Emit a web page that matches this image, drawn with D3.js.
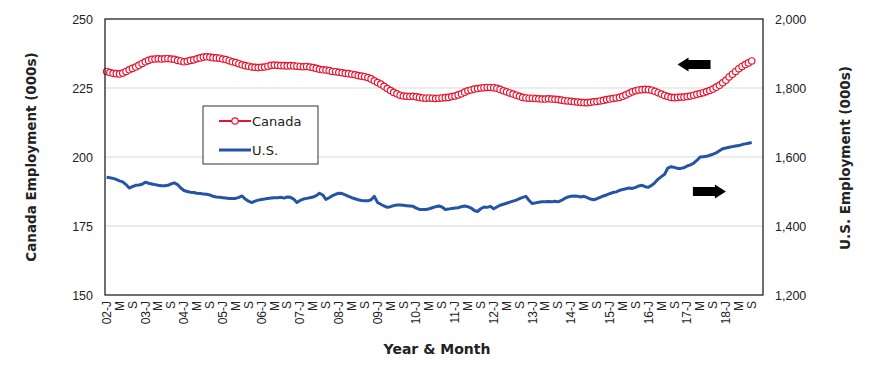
<!DOCTYPE html>
<html>
<head>
<meta charset="utf-8">
<script src="https://cdn.jsdelivr.net/npm/d3@7"></script>
<style>
  body { margin: 0; background: #fff; }
  svg { font-family: "Century Gothic", "DejaVu Sans", sans-serif; }
</style>
</head>
<body>
<svg id="chart" width="870" height="372"></svg>
<script>
// Categories: Jan 2002 .. Dec 2018 (data runs to Sep 2018)
const years = d3.range(2002, 2019);
const monthLetters = ['J', 'F', 'M', 'A', 'M', 'J', 'J', 'A', 'S', 'O', 'N', 'D'];
const labelMonths = [0, 4, 8];   // J, M, S

// Canada employment (000s), left axis
const canada = [
  231.0, 230.6, 230.3, 230.2, 230.1, 230.4, 231.0, 231.6, 232.1, 232.6, 233.2, 233.9,
  234.5, 235.0, 235.4, 235.5, 235.6, 235.5, 235.6, 235.7, 235.5, 235.4, 235.0, 234.8,
  234.5, 234.7, 235.0, 235.2, 235.6, 235.9, 236.2, 236.3, 236.2, 236.0, 235.9, 235.8,
  235.5, 235.3, 234.9, 234.5, 234.2, 233.8, 233.4, 233.1, 232.9, 232.6, 232.5, 232.4,
  232.5, 232.6, 232.9, 233.2, 233.3, 233.2, 233.1, 233.1, 233.0, 233.1, 233.0, 232.9,
  232.8, 232.7, 232.8, 232.6, 232.4, 232.1, 231.8, 231.6, 231.5, 231.3, 231.0, 230.9,
  230.7, 230.5, 230.3, 230.2, 230.0, 229.8, 229.5, 229.3, 229.1, 228.8, 228.3, 227.6,
  227.0, 226.4, 225.6, 224.8, 224.1, 223.4, 222.9, 222.4, 222.1, 222.0, 221.9, 222.0,
  221.8, 221.6, 221.4, 221.3, 221.4, 221.3, 221.2, 221.3, 221.4, 221.5, 221.6, 221.9,
  222.1, 222.5, 222.9, 223.5, 224.0, 224.3, 224.6, 224.8, 225.0, 225.1, 225.2, 225.2,
  225.1, 224.9, 224.5, 224.0, 223.6, 223.2, 222.8, 222.4, 222.0, 221.6, 221.4, 221.3,
  221.3, 221.2, 221.1, 221.0, 221.0, 221.1, 221.0, 220.9, 220.8, 220.6, 220.4, 220.3,
  220.2, 220.0, 219.9, 219.8, 219.7, 219.7, 219.8, 220.0, 220.1, 220.3, 220.5, 220.8,
  221.0, 221.2, 221.4, 221.6, 222.0, 222.5, 223.1, 223.6, 224.0, 224.3, 224.4, 224.5,
  224.4, 224.2, 223.8, 223.3, 222.8, 222.3, 221.9, 221.6, 221.5, 221.6, 221.7, 221.7,
  221.9, 222.1, 222.4, 222.7, 223.0, 223.3, 223.7, 224.1, 224.6, 225.3, 226.0, 226.9,
  227.8, 229.0, 230.0, 231.0, 232.0, 232.8, 233.5, 234.1, 234.8
];

// U.S. employment (000s), right axis
const us = [
  1541, 1540, 1538, 1535, 1531, 1528, 1520, 1510, 1514, 1518, 1519, 1521,
  1527, 1524, 1522, 1520, 1518, 1517, 1517, 1518, 1522, 1525, 1520, 1510,
  1503, 1500, 1498, 1497, 1495, 1494, 1493, 1492, 1490, 1486, 1484, 1483,
  1482, 1481, 1480, 1480, 1480, 1483, 1487, 1478, 1472, 1468, 1472, 1475,
  1477, 1478, 1480, 1481, 1482, 1482, 1483, 1481, 1484, 1483, 1478, 1468,
  1474, 1478, 1480, 1482, 1484, 1488, 1495, 1490, 1477, 1482, 1488, 1492,
  1495, 1494, 1490, 1486, 1482, 1479, 1476, 1474, 1473, 1473, 1476, 1486,
  1468, 1463, 1458, 1454, 1456, 1459, 1461, 1461, 1460, 1459, 1458, 1457,
  1452, 1448, 1448, 1448, 1450, 1453, 1456, 1458, 1455, 1448, 1449, 1451,
  1452, 1453, 1456, 1458, 1456, 1452, 1445, 1442, 1450, 1455, 1454, 1457,
  1450, 1455, 1460, 1463, 1466, 1469, 1472, 1475, 1479, 1483, 1486, 1474,
  1465, 1467, 1469, 1470, 1470, 1471, 1470, 1472, 1470, 1474, 1480, 1484,
  1486, 1487, 1486, 1484, 1486, 1482, 1478, 1476, 1479, 1483, 1487, 1490,
  1494, 1497, 1499, 1503, 1506, 1508, 1510, 1509, 1512, 1516, 1518, 1514,
  1512, 1518, 1526, 1536, 1543, 1550, 1568, 1572, 1570, 1567, 1567, 1569,
  1574, 1577, 1582, 1590, 1600, 1601, 1602, 1605, 1608, 1612, 1618, 1624,
  1626, 1628, 1630, 1632, 1633, 1636, 1638, 1640, 1642
];

const leftTicks = [150, 175, 200, 225, 250];
const rightTicks = [1200, 1400, 1600, 1800, 2000];

const RED = '#e8142e', BLUE = '#2455a4';

const svg = d3.select('#chart');
const plot = { left: 105, right: 763, top: 19, bottom: 295 };

const categories = years.flatMap((y) => monthLetters.map((m, mi) => ({ year: y, month: mi })));

const x = d3.scaleBand().domain(d3.range(categories.length)).range([plot.left, plot.right]);
const cx = (i) => x(i) + x.bandwidth() / 2;
const yLeft = d3.scaleLinear().domain([150, 250]).range([plot.bottom, plot.top]);
const yRight = d3.scaleLinear().domain([1200, 2000]).range([plot.bottom, plot.top]);

// Gridlines
svg.append('g').selectAll('line').data(leftTicks.slice(1, -1)).enter().append('line')
    .attr('x1', plot.left).attr('x2', plot.right)
    .attr('y1', (d) => yLeft(d)).attr('y2', (d) => yLeft(d))
    .attr('stroke', '#d9d9d9').attr('stroke-width', 1);

// Left axis labels
const axL = svg.append('g').attr('transform', `translate(${plot.left},0)`)
    .call(d3.axisLeft(yLeft).tickValues(leftTicks).tickSize(0).tickPadding(12));
axL.select('.domain').remove();
axL.selectAll('text').attr('font-size', 12.5).attr('fill', '#222').attr('font-family', null);

// Right axis labels
const axR = svg.append('g').attr('transform', `translate(${plot.right},0)`)
    .call(d3.axisRight(yRight).tickValues(rightTicks).tickSize(0).tickPadding(12).tickFormat(d3.format(',')));
axR.select('.domain').remove();
axR.selectAll('text').attr('font-size', 12.5).attr('fill', '#222').attr('font-family', null);

// Bottom axis labels
const tickIdx = d3.range(categories.length).filter((i) => labelMonths.includes(categories[i].month) && i < canada.length);
const axB = svg.append('g').attr('transform', `translate(0,${plot.bottom})`)
    .call(d3.axisBottom(x).tickValues(tickIdx).tickSize(0).tickFormat((i) => {
        const c = categories[i];
        return c.month === 0 ? String(c.year).slice(2) + '-' + monthLetters[0] : monthLetters[c.month];
    }));
axB.select('.domain').remove();
axB.selectAll('text')
    .attr('font-size', 12).attr('fill', '#222').attr('font-family', null)
    .attr('text-anchor', 'end').attr('dy', '0.35em').attr('y', 0)
    .attr('transform', 'translate(0,6) rotate(-90)');

// US line
const lineUS = d3.line().x((d, i) => cx(i)).y((d) => yRight(d));
svg.append('path').datum(us).attr('d', lineUS)
    .attr('fill', 'none').attr('stroke', BLUE).attr('stroke-width', 3).attr('stroke-linejoin', 'round');

// Canada line + markers
const lineCA = d3.line().x((d, i) => cx(i)).y((d) => yLeft(d));
svg.append('path').datum(canada).attr('d', lineCA)
    .attr('fill', 'none').attr('stroke', RED).attr('stroke-width', 2);
svg.append('g').selectAll('circle').data(canada).enter().append('circle')
    .attr('cx', (d, i) => cx(i)).attr('cy', (d) => yLeft(d)).attr('r', 3.2)
    .attr('fill', '#fff').attr('stroke', RED).attr('stroke-width', 1.2);

// Plot border
svg.append('rect')
    .attr('x', plot.left).attr('y', plot.top)
    .attr('width', plot.right - plot.left).attr('height', plot.bottom - plot.top)
    .attr('fill', 'none').attr('stroke', '#222').attr('stroke-width', 1.3);

// Legend
const lg = svg.append('g').attr('transform', 'translate(203,106)');
lg.append('rect').attr('width', 115).attr('height', 58)
    .attr('fill', '#fff').attr('stroke', '#333').attr('stroke-width', 1);
lg.append('line').attr('x1', 16).attr('x2', 48).attr('y1', 15).attr('y2', 15).attr('stroke', RED).attr('stroke-width', 2);
lg.append('circle').attr('cx', 32).attr('cy', 15).attr('r', 3.2).attr('fill', '#fff').attr('stroke', RED).attr('stroke-width', 1.2);
lg.append('text').attr('x', 49).attr('y', 15).attr('dy', '0.35em').attr('font-size', 13).attr('fill', '#222').text('Canada');
lg.append('line').attr('x1', 16).attr('x2', 48).attr('y1', 44).attr('y2', 44).attr('stroke', BLUE).attr('stroke-width', 3);
lg.append('text').attr('x', 49).attr('y', 44).attr('dy', '0.35em').attr('font-size', 13).attr('fill', '#222').text('U.S.');

// Arrows (annotation): left one points at Canada axis, right one at U.S. axis
function arrow(xTip, yMid, dir) {
    const len = 33, head = 11, h = 7, sh = 4.5;
    const p = [[0, 0], [head, -h], [head, -sh], [len, -sh], [len, sh], [head, sh], [head, h]];
    return 'M' + p.map(([a, b]) => [xTip + dir * a, yMid + b].join(',')).join('L') + 'Z';
}
svg.append('path').attr('d', arrow(cx(177), yLeft(233.5), 1)).attr('fill', '#000');
svg.append('path').attr('d', arrow(cx(192), yRight(1500), -1)).attr('fill', '#000');

// Axis titles
svg.append('text').attr('transform', 'translate(31,157) rotate(-90)')
    .attr('text-anchor', 'middle').attr('dy', '0.35em')
    .attr('font-size', 13.5).attr('font-weight', 'bold').attr('fill', '#222')
    .text('Canada Employment (000s)');
svg.append('text').attr('transform', 'translate(845,158) rotate(-90)')
    .attr('text-anchor', 'middle').attr('dy', '0.35em')
    .attr('font-size', 13.5).attr('font-weight', 'bold').attr('fill', '#222')
    .text('U.S. Employment (000s)');
svg.append('text').attr('x', 437).attr('y', 354)
    .attr('text-anchor', 'middle')
    .attr('font-size', 14).attr('font-weight', 'bold').attr('fill', '#222')
    .text('Year & Month');
</script>
</body>
</html>
